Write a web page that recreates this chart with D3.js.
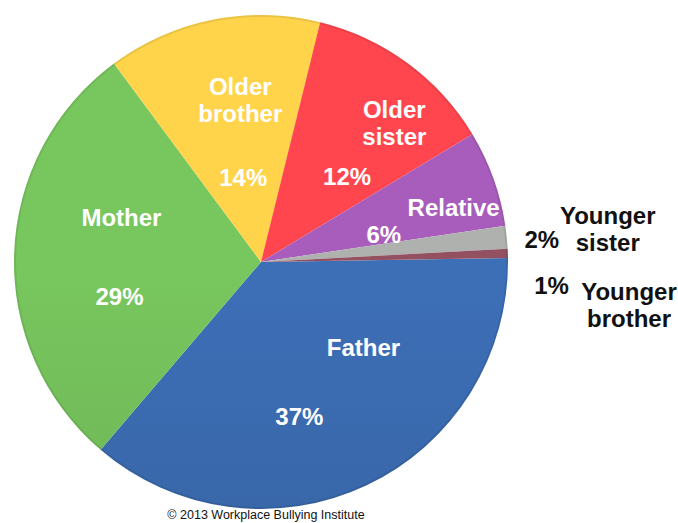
<!DOCTYPE html>
<html>
<head>
<meta charset="utf-8">
<script src="https://cdn.jsdelivr.net/npm/d3@7"></script>
<style>
  body { margin: 0; background: #fff; }
  svg { display: block; font-family: "Liberation Sans", Arial, Helvetica, sans-serif; }
</style>
</head>
<body>
<div class="chart"></div>
<script>
const width = 678;
const height = 523;

// data
const categories = ["Father", "Mother", "Older brother", "Older sister", "Relative", "Younger sister", "Younger brother"];
const values = [36.5, 28.6, 14.0, 12.5, 6.3, 1.5, 0.6];
const pctLabels = ["37%", "29%", "14%", "12%", "6%", "2%", "1%"];
const nameLines = [["Father"], ["Mother"], ["Older", "brother"], ["Older", "sister"], ["Relative"], ["Younger", "sister"], ["Younger", "brother"]];
const colors = ["#3a69ad", "#72bc59", "#fcc946", "#f8424a", "#9f58b3", "#a6a8a6", "#8a4c5c"];

// label placement: t = fraction across slice angle, k = fraction of radius
const namePos = [[0.31, 0.54], [0.652, 0.593], [0.58, 0.66], [0.665, 0.78], [0.68, 0.81], [0.56, 1.41], [4.5, 1.50]];
const pctPos = [[0.586, 0.646], [0.346, 0.59], [0.49, 0.35], [0.70, 0.49], [0.81, 0.51], [0.74, 1.14], [3.6, 1.18]];

const cx = 261, cy = 262, radius = 247;
const start = 89.1 * Math.PI / 180;

let svg = d3.select(".chart")
    .append("svg")
    .attr("width", width)
    .attr("height", height);

let defs = svg.append("defs");
colors.forEach((c, i) => {
    let g = defs.append("linearGradient")
        .attr("id", "grad" + i)
        .attr("gradientUnits", "userSpaceOnUse")
        .attr("x1", 0).attr("y1", cy - radius)
        .attr("x2", 0).attr("y2", cy + radius);
    g.append("stop").attr("offset", "0%").attr("stop-color", d3.color(c).brighter(0.15));
    g.append("stop").attr("offset", "100%").attr("stop-color", d3.color(c).darker(0.3));
});

let pie = d3.pie().sort(null).startAngle(start).endAngle(start + 2 * Math.PI);
let arcs = pie(values);
let arc = d3.arc().innerRadius(0).outerRadius(radius);

let g = svg.append("g").attr("transform", `translate(${cx},${cy})`);

g.selectAll("path")
    .data(arcs)
    .enter()
    .append("path")
    .attr("d", arc)
    .attr("fill", (d, i) => `url(#grad${i})`);

// soft rim
g.append("circle")
    .attr("r", radius - 1)
    .attr("fill", "none")
    .attr("stroke", "rgba(0,0,0,0.08)")
    .attr("stroke-width", 2);

function place(d, pos) {
    let a = d.startAngle + pos[0] * (d.endAngle - d.startAngle);
    return d3.pointRadial(a, pos[1] * radius);
}

const lineH = 27;

arcs.forEach((d, i) => {
    let inside = namePos[i][1] < 1;
    let fill = inside ? "#fff" : "#111";
    let p = place(d, namePos[i]);
    let lines = nameLines[i];
    let t = g.append("text")
        .attr("text-anchor", "middle")
        .attr("font-size", 24)
        .attr("font-weight", "bold")
        .attr("fill", fill);
    lines.forEach((s, j) => {
        t.append("tspan")
            .attr("x", p[0])
            .attr("y", p[1] + (j - (lines.length - 1) / 2) * lineH)
            .attr("dy", "0.35em")
            .text(s);
    });

    let q = place(d, pctPos[i]);
    g.append("text")
        .attr("x", q[0])
        .attr("y", q[1])
        .attr("dy", "0.35em")
        .attr("text-anchor", "middle")
        .attr("font-size", 24)
        .attr("font-weight", "bold")
        .attr("fill", fill)
        .text(pctLabels[i]);
});

svg.append("text")
    .attr("x", 266)
    .attr("y", 519)
    .attr("text-anchor", "middle")
    .attr("font-size", 12.5)
    .attr("fill", "#111")
    .text("© 2013 Workplace Bullying Institute");
</script>
</body>
</html>
